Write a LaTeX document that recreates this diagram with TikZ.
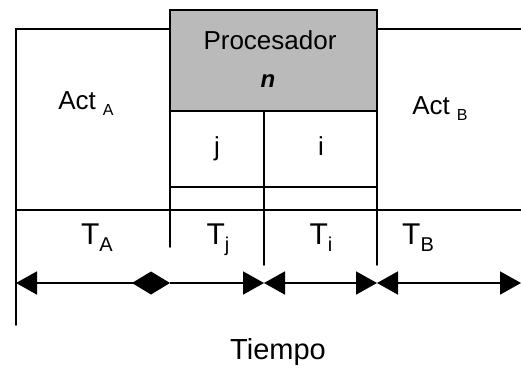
\documentclass[tikz,border=0pt]{standalone}
\usepackage{fontspec}
\setmainfont{Liberation Sans}
\usetikzlibrary{arrows.meta}
\tikzset{
  ln/.style={line width=1.8pt, line cap=round},
  arr/.style={line width=1.8pt},
  lbl/.style={inner sep=0pt, anchor=base},
  tri/.tip={Triangle[length=21pt,width=23pt]},
  dia/.tip={Diamond[length=38pt,width=23pt]}
}
\newcommand{\sbs}[2]{\raisebox{-0.25em}{\fontsize{#2}{#2}\selectfont #1}}
\begin{document}
\begin{tikzpicture}[x=1pt,y=-1pt]
\useasboundingbox (0,0) rectangle (521,372);
% shaded processor box
\fill[black!27] (170,10) rectangle (377,111);
% coordinates
\coordinate (tl) at (16,29);
\coordinate (bl) at (16,325);
\coordinate (pa) at (170,29);
\coordinate (pb) at (377,29);
\coordinate (pr) at (521,29);
\coordinate (p1) at (170,10);
\coordinate (p2) at (377,10);
\coordinate (m1) at (170,111);
\coordinate (m2) at (377,111);
\coordinate (c1) at (170,187);
\coordinate (c2) at (377,187);
\coordinate (r1) at (16,210);
\coordinate (r2) at (521,210);
\coordinate (x1) at (170,247);
\coordinate (mid) at (264,111);
\coordinate (midb) at (264,265);
\coordinate (x3) at (377,265);
% lines
\draw[ln] (bl) -- (tl) -- (pa);
\draw[ln] (pb) -- (pr);
\draw[ln] (x1) -- (p1) -- (p2) -- (x3);
\draw[ln] (m1) -- (m2);
\draw[ln] (c1) -- (c2);
\draw[ln] (r1) -- (r2);
\draw[ln] (mid) -- (midb);
% arrows
\coordinate (a0) at (16,283);
\coordinate (a1) at (170,283);
\coordinate (a2) at (264,283);
\coordinate (a3) at (377,283);
\coordinate (a4) at (521,283);
\draw[arr, {tri}-{dia}] (a0) -- (a1);
\draw[arr, -{tri}] (a1) -- (a2);
\draw[arr, {tri}-{tri}] (a2) -- (a3);
\draw[arr, {tri}-{tri}] (a3) -- (a4);
% texts
\node[lbl, font=\fontsize{26}{26}\selectfont] (proc) at (270,49) {Procesador};
\node[lbl, font=\fontsize{24}{24}\selectfont\itshape\bfseries] (n) at (268,87) {n};
\node[lbl, font=\fontsize{26}{26}\selectfont] (acta) at (86,109) {Act\hspace{7pt}\sbs{A}{16}};
\node[lbl, font=\fontsize{26}{26}\selectfont] (actb) at (440,114) {Act\hspace{7pt}\sbs{B}{16}};
\node[lbl, font=\fontsize{26}{26}\selectfont] (j) at (217,155) {j};
\node[lbl, font=\fontsize{26}{26}\selectfont] (i) at (321,155) {i};
\node[lbl, font=\fontsize{30}{30}\selectfont] (ta) at (97,244) {T\sbs{A}{20}};
\node[lbl, font=\fontsize{30}{30}\selectfont] (tj) at (218,244) {T\sbs{j}{20}};
\node[lbl, font=\fontsize{30}{30}\selectfont] (ti) at (321,244) {T\sbs{i}{20}};
\node[lbl, font=\fontsize{30}{30}\selectfont] (tb) at (418,244) {T\sbs{B}{20}};
\node[lbl, font=\fontsize{29}{29}\selectfont] (tiempo) at (278,359) {Tiempo};
\end{tikzpicture}
\end{document}
